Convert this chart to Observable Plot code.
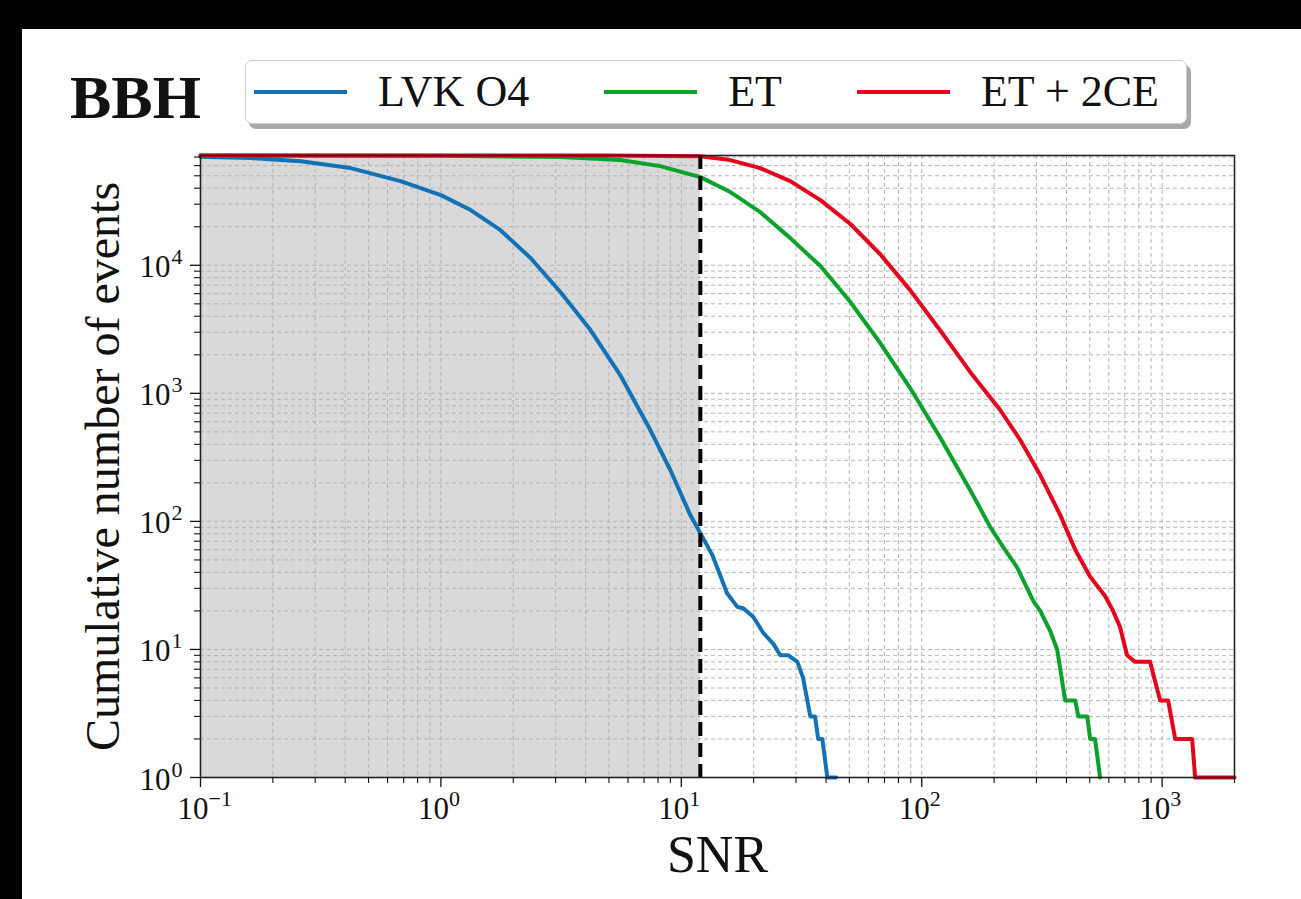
<!DOCTYPE html>
<html><head><meta charset="utf-8">
<script src="https://cdn.jsdelivr.net/npm/d3@7"></script>
<script src="https://cdn.jsdelivr.net/npm/@observablehq/plot@0.6"></script>
<style>
html,body{margin:0;padding:0;background:#000;width:1301px;height:899px;overflow:hidden;}
#page{position:absolute;left:22px;top:29px;width:1279px;height:870px;background:#fff;}
#chart{position:absolute;left:0;top:0;z-index:1;}
#title{position:absolute;left:70px;top:66px;font:bold 62px/62px "Liberation Serif",serif;color:#111;z-index:2;}
#legend{position:absolute;left:245px;top:60px;width:942px;height:64px;box-sizing:border-box;border:1.5px solid #cfcfcf;border-radius:7px;box-shadow:4px 5px 0 #a9a9a9;background:#fff;display:flex;align-items:center;padding-left:8px;z-index:2;}
.item{display:flex;align-items:center;margin-right:75px;}
.sw{width:93px;height:4px;margin-right:31px;}
.lab{font:44px/44px "Liberation Serif",serif;color:#111;white-space:pre;}
</style></head>
<body>
<div id="page"></div>
<div id="chart"></div>
<div id="title">BBH</div>
<div id="legend"></div>
<script>
// ---- data ----
const seriesNames = ["LVK O4", "ET", "ET + 2CE"];
const seriesColors = ["#1372b6", "#0ba22b", "#e4051c"];

const lvkSNR = [0.1,0.161,0.261,0.421,0.679,1.0,1.33,1.77,2.36,3.14,4.19,5.57,7.43,9.0,10.9,12,13.5,15.5,17.1,18.1,19.9,21.9,24.2,25.8,27.9,30.4,32.1,34.4,36,37.1,38.6,40.5,44];
const lvkN   = [70500,68700,65000,57400,45400,35300,27000,18800,11400,6180,3120,1390,517,252,112,81,54,27.5,21.5,21,18,13.5,11,9,9,8,6,3,3,2,2,1,1];

const etSNR = [0.1,1,3.14,5.57,8.17,12,16,21.3,28.4,37.9,50.5,67.2,89.5,119,159,193,222,249,264,291,311,342,366,377,395,435,448,488,502,526,552];
const etN   = [71900,71800,70000,66300,59500,48800,37300,26000,16300,9860,5160,2470,1100,456,176,90,60,44,35,24,20,14,10,7,4,4,3,3,2,2,1];

const ceSNR = [0.1,5,12,16,21.3,28.4,37.9,50.5,67.2,89.5,119,159,212,257,311,377,435,502,580,625,668,715,772,891,981,1059,1133,1333,1372,2000];
const ceN   = [72000,72000,71000,66300,57400,45400,32300,21000,12200,6400,3120,1470,741,432,230,112,60,37,26,20,15,9,8,8,4,4,2,2,1,1];

const snrThreshold = 12;
const xDomain = [0.1, 2000];
const yDomain = [1, 72000];
const xTickExps = [-1, 0, 1, 2, 3];
const yTickExps = [0, 1, 2, 3, 4];

// ---- build ----
const rows = (name, xs, ys) => xs.map((x, i) => ({series: name, snr: x, n: ys[i]}));
const data = [
  ...rows(seriesNames[0], lvkSNR, lvkN),
  ...rows(seriesNames[1], etSNR, etN),
  ...rows(seriesNames[2], ceSNR, ceN)
];

const isMajor = v => Math.abs(Math.log10(v) - Math.round(Math.log10(v))) < 1e-6;
const xAll = d3.scaleLog().domain(xDomain).ticks();
const yAll = d3.scaleLog().domain(yDomain).ticks();
const xMajor = xTickExps.map(e => 10 ** e);
const yMajor = yTickExps.map(e => 10 ** e);
const xMinor = xAll.filter(v => !isMajor(v));
const yMinor = yAll.filter(v => !isMajor(v));
const expText = e => (e < 0 ? "\u2212" + (-e) : String(e));

// legend
const leg = document.getElementById("legend");
seriesNames.forEach((name, i) => {
  const it = document.createElement("div"); it.className = "item";
  const sw = document.createElement("div"); sw.className = "sw"; sw.style.background = seriesColors[i];
  const lb = document.createElement("span"); lb.className = "lab"; lb.textContent = name;
  it.appendChild(sw); it.appendChild(lb); leg.appendChild(it);
});

const gridStyle = {stroke: "#b4b4b4", strokeWidth: 1, strokeDasharray: "4,3"};
const tickCommon = {tickFormat: () => "", label: null};

const chart = Plot.plot({
  width: 1301,
  height: 899,
  marginTop: 155,
  marginBottom: 122,
  marginLeft: 200,
  marginRight: 67,
  style: {fontFamily: "Liberation Serif, serif", background: "transparent", color: "#111", overflow: "visible"},
  x: {type: "log", domain: xDomain, axis: null, label: null},
  y: {type: "log", domain: yDomain, axis: null, label: null},
  color: {domain: seriesNames, range: seriesColors},
  marks: [
    Plot.rect([snrThreshold], {x1: () => xDomain[0], x2: d => d, y1: () => yDomain[0], y2: () => yDomain[1], fill: "#d9d9d9"}),
    Plot.ruleX(xAll, gridStyle),
    Plot.ruleY(yAll, gridStyle),
    Plot.line(data, {x: "snr", y: "n", z: "series", stroke: "series", strokeWidth: 4, strokeLinejoin: "round"}),
    Plot.ruleX([snrThreshold], {stroke: "#000", strokeWidth: 4, strokeDasharray: "14,7"}),
    Plot.frame({stroke: "#222", strokeWidth: 1.6}),
    Plot.axisX({...tickCommon, ticks: xMajor, tickSize: 10, strokeWidth: 1.3, anchor: "bottom"}),
    Plot.axisX({...tickCommon, ticks: xMinor, tickSize: 6, strokeWidth: 1.1, anchor: "bottom"}),
    Plot.axisY({...tickCommon, ticks: yMajor, tickSize: 10, strokeWidth: 1.3, anchor: "left"}),
    Plot.axisY({...tickCommon, ticks: yMinor, tickSize: 6, strokeWidth: 1.1, anchor: "left"}),
    // x tick labels
    Plot.text(xTickExps, {x: e => 10 ** e, frameAnchor: "bottom", text: () => "10", textAnchor: "end", lineAnchor: "bottom", dx: 8, dy: 41, fontSize: 31}),
    Plot.text(xTickExps, {x: e => 10 ** e, frameAnchor: "bottom", text: expText, textAnchor: "start", lineAnchor: "bottom", dx: 8, dy: 28, fontSize: 22}),
    // y tick labels
    Plot.text(yTickExps, {y: e => 10 ** e, frameAnchor: "left", text: () => "10", textAnchor: "end", lineAnchor: "bottom", dx: -30, dy: 12, fontSize: 31}),
    Plot.text(yTickExps, {y: e => 10 ** e, frameAnchor: "left", text: expText, textAnchor: "end", lineAnchor: "bottom", dx: -18, dy: -1, fontSize: 22}),
    // axis labels
    Plot.text(["SNR"], {frameAnchor: "bottom", text: d => d, textAnchor: "middle", lineAnchor: "bottom", dy: 94, fontSize: 52}),
    Plot.text(["Cumulative number of events"], {frameAnchor: "left", text: d => d, textAnchor: "middle", rotate: -90, lineAnchor: "bottom", dx: -82, fontSize: 48})
  ]
});
document.getElementById("chart").appendChild(chart);
</script>
</body></html>
